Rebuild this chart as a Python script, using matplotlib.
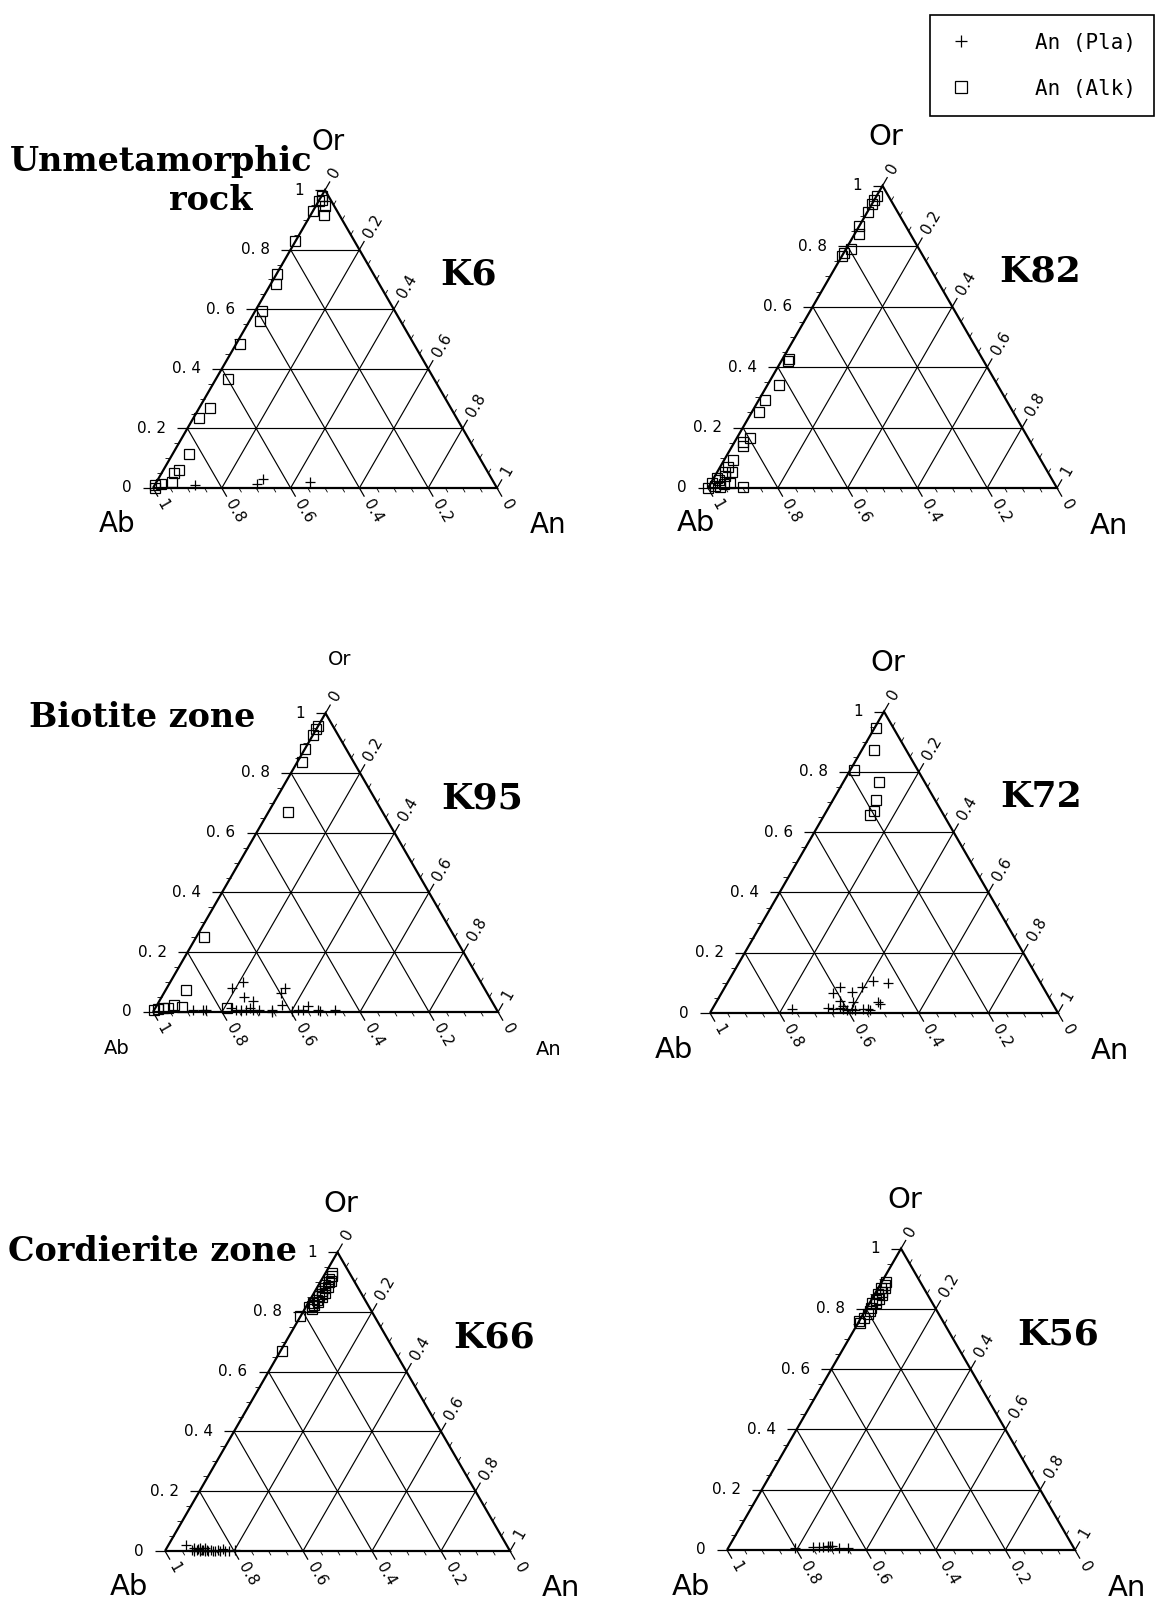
import numpy as np
import matplotlib.pyplot as plt
from matplotlib.lines import Line2D

W, H = 1161, 1605
S3 = np.sqrt(3) / 2

# feldspar compositions as Or and An fractions (Ab = 1 - Or - An)
# Alk = alkali feldspar (open squares), Pla = plagioclase (plus signs)
k6_alk_or = [0.98, 0.966, 0.963, 0.946, 0.916, 0.929, 0.828, 0.72, 0.686, 0.595, 0.56,
             0.483, 0.365, 0.267, 0.236, 0.115, 0.061, 0.051, 0.02, 0.014, 0.01, 0.0]
k6_alk_an = [0.0, 0.008, 0.0, 0.026, 0.04, 0.0, 0.0, 0.0, 0.016, 0.02, 0.03,
             0.01, 0.035, 0.033, 0.016, 0.046, 0.046, 0.036, 0.045, 0.017, 0.0, 0.006]
k6_pla_or = [0.01, 0.014, 0.03, 0.02]
k6_pla_an = [0.117, 0.296, 0.305, 0.447]

k82_alk_or = [0.966, 0.953, 0.94, 0.913, 0.866, 0.842, 0.792, 0.779, 0.768, 0.419, 0.426,
              0.342, 0.292, 0.252, 0.164, 0.151, 0.138, 0.094, 0.07, 0.054, 0.054, 0.034,
              0.017, 0.003, 0.017, 0.003, 0.0, 0.008, 0.025, 0.04, 0.012]
k82_alk_an = [0.0, 0.0, 0.0, 0.003, 0.0, 0.011, 0.013, 0.0, 0.0, 0.019, 0.02,
              0.032, 0.018, 0.02, 0.037, 0.024, 0.03, 0.026, 0.023, 0.023, 0.043, 0.009,
              0.003, 0.033, 0.054, 0.1, 0.0, 0.015, 0.02, 0.03, 0.04]
k82_pla_or = []
k82_pla_an = []

k95_alk_or = [0.956, 0.946, 0.926, 0.879, 0.836, 0.668, 0.252, 0.074, 0.007, 0.01, 0.013,
              0.013, 0.023, 0.017, 0.013]
k95_alk_an = [0.0, 0.0, 0.0, 0.0, 0.015, 0.058, 0.022, 0.059, 0.0, 0.01, 0.023,
              0.037, 0.049, 0.075, 0.208]
k95_pla_or = [0.007, 0.007, 0.007, 0.081, 0.1, 0.05, 0.037, 0.013, 0.007, 0.007, 0.007,
              0.013, 0.007, 0.007, 0.0, 0.007, 0.023, 0.064, 0.081, 0.003, 0.007, 0.007,
              0.02, 0.007, 0.003, 0.007]
k95_pla_an = [0.112, 0.141, 0.15, 0.189, 0.21, 0.239, 0.271, 0.219, 0.237, 0.252, 0.266,
              0.275, 0.286, 0.304, 0.345, 0.341, 0.362, 0.339, 0.342, 0.402, 0.417, 0.431,
              0.439, 0.475, 0.484, 0.524]

k72_alk_or = [0.946, 0.872, 0.805, 0.768, 0.708, 0.671, 0.658]
k72_alk_an = [0.004, 0.035, 0.011, 0.101, 0.122, 0.135, 0.13]
k72_pla_or = [0.013, 0.087, 0.067, 0.07, 0.087, 0.107, 0.101, 0.04, 0.037, 0.037, 0.03,
              0.017, 0.013, 0.017, 0.013, 0.01, 0.013, 0.01, 0.013, 0.013, 0.01, 0.023]
k72_pla_an = [0.229, 0.33, 0.32, 0.373, 0.393, 0.415, 0.461, 0.353, 0.391, 0.463, 0.474,
              0.331, 0.347, 0.365, 0.375, 0.388, 0.401, 0.411, 0.433, 0.447, 0.456, 0.371]

k66_alk_or = [0.93, 0.92, 0.91, 0.905, 0.9, 0.89, 0.885, 0.88, 0.87, 0.865, 0.86,
              0.855, 0.85, 0.84, 0.835, 0.83, 0.825, 0.82, 0.815, 0.81, 0.785, 0.67]
k66_alk_an = [0.02, 0.025, 0.02, 0.03, 0.025, 0.02, 0.03, 0.025, 0.02, 0.03, 0.025,
              0.02, 0.03, 0.02, 0.025, 0.015, 0.02, 0.015, 0.01, 0.02, 0.0, 0.003]
k66_pla_or = [0.02, 0.005, 0.01, 0.0, 0.005, 0.01, 0.0, 0.005, 0.01, 0.0, 0.005,
              0.0, 0.005, 0.0, 0.005, 0.0, 0.0, 0.005, 0.008, 0.003, 0.0, 0.006, 0.0]
k66_pla_an = [0.051, 0.075, 0.08, 0.085, 0.09, 0.095, 0.1, 0.105, 0.11, 0.115, 0.12,
              0.125, 0.13, 0.14, 0.15, 0.16, 0.175, 0.2, 0.092, 0.108, 0.145, 0.165, 0.185]

k56_alk_or = [0.889, 0.878, 0.868, 0.855, 0.845, 0.834, 0.828, 0.818, 0.804, 0.794,
              0.784, 0.77, 0.753, 0.76, 0.87, 0.85, 0.82]
k56_alk_an = [0.012, 0.015, 0.02, 0.018, 0.022, 0.02, 0.015, 0.018, 0.012, 0.015,
              0.012, 0.01, 0.006, 0.0, 0.008, 0.01, 0.006]
k56_pla_or = [0.007, 0.01, 0.01, 0.014, 0.01, 0.014, 0.007, 0.007, 0.01, 0.012]
k56_pla_an = [0.192, 0.243, 0.272, 0.283, 0.286, 0.29, 0.317, 0.345, 0.26, 0.295]

# panel layout: name, Ab corner in pixels (x, y from top), side length in pixels,
# vertex-label size, data
panels = [
    ("K6", 153, 488, 344, 20, k6_alk_or, k6_alk_an, k6_pla_or, k6_pla_an),
    ("K82", 708, 488, 349, 21, k82_alk_or, k82_alk_an, k82_pla_or, k82_pla_an),
    ("K95", 153, 1012, 345, 14, k95_alk_or, k95_alk_an, k95_pla_or, k95_pla_an),
    ("K72", 710, 1013, 348, 21, k72_alk_or, k72_alk_an, k72_pla_or, k72_pla_an),
    ("K66", 165, 1551, 345, 21, k66_alk_or, k66_alk_an, k66_pla_or, k66_pla_an),
    ("K56", 727, 1550, 348, 21, k56_alk_or, k56_alk_an, k56_pla_or, k56_pla_an),
]
ab_offsets = {"K82": (-0.035, -0.10)}

XL = (-0.5, 1.3)
YL = (-0.25, 1.05)


def to_xy(or_, an):
    or_ = np.asarray(or_, float)
    an = np.asarray(an, float)
    return an + or_ / 2, or_ * S3


def tick_text(t, left=False):
    if t == 0:
        return "0"
    if t == 1:
        return "1"
    return ("0. %d" if left else "0.%d") % round(t * 10)


def frame(ax, w, name, vsize):
    px = 1.0 / w
    k = dict(color="k", solid_capstyle="butt")
    ax.plot([0, 1, 0.5, 0], [0, 0, S3, 0], lw=1.6, solid_joinstyle="miter", **k)
    for v in [0.2, 0.4, 0.6, 0.8]:
        ax.plot([v / 2, 1 - v / 2], [v * S3, v * S3], lw=0.85, **k)
        ax.plot([v, v + (1 - v) / 2], [0, (1 - v) * S3], lw=0.85, **k)
        ax.plot([1 - v, (1 - v) / 2], [0, (1 - v) * S3], lw=0.85, **k)

    for i in range(21):
        t = i / 20
        major = i % 4 == 0
        L = (10 if major else 5) * px
        lw = 0.9 if major else 0.6
        # Or axis (left side), horizontal ticks
        x, y = t / 2, t * S3
        ax.plot([x, x - L], [y, y], lw=lw, **k)
        if major:
            ax.text(x - L - 11 * px, y, tick_text(t, True), ha="right", va="center",
                    fontsize=11)
        # Ab axis (bottom), ticks pointing down-right
        x, y = 1 - t, 0
        ax.plot([x, x + 0.5 * L], [y, y - S3 * L], lw=lw, **k)
        if major:
            g = L + 5 * px
            ax.text(x + 0.5 * g, y - S3 * g, tick_text(t), rotation=-60,
                    rotation_mode="anchor", ha="left", va="center", fontsize=11)
        # An axis (right side), ticks pointing up-right
        x, y = t + (1 - t) / 2, (1 - t) * S3
        ax.plot([x, x + 0.5 * L], [y, y + S3 * L], lw=lw, **k)
        if major:
            g = L + 5 * px
            ax.text(x + 0.5 * g, y + S3 * g, tick_text(t), rotation=60,
                    rotation_mode="anchor", ha="left", va="center", fontsize=11)

    abx, aby = ab_offsets.get(name, (-0.105, -0.105))
    ax.text(abx, aby, "Ab", ha="center", va="center", fontsize=vsize)
    ax.text(1.148, -0.108, "An", ha="center", va="center", fontsize=vsize)
    if name == "K95":
        ox, oy = 0.54, S3 + 0.155
    else:
        ox, oy = 0.51, S3 + 0.14
    ax.text(ox, oy, "Or", ha="center", va="center", fontsize=vsize)
    ax.text(0.835, 0.62, name, ha="left", va="center", fontsize=26,
            family="DejaVu Serif", fontweight="bold")


fig = plt.figure(figsize=(W / 100, H / 100), dpi=100)

for name, x0, y0, w, vsize, a_or, a_an, p_or, p_an in panels:
    left = (x0 + XL[0] * w) / W
    bottom = (H - y0 + YL[0] * w) / H
    ax = fig.add_axes([left, bottom, (XL[1] - XL[0]) * w / W, (YL[1] - YL[0]) * w / H])
    ax.set_xlim(*XL)
    ax.set_ylim(*YL)
    ax.set_axis_off()
    frame(ax, w, name, vsize)
    x, y = to_xy(a_or, a_an)
    ax.plot(x, y, ls="none", marker="s", ms=7.6, mfc="none", mec="k", mew=0.9,
            clip_on=False)
    if len(p_or):
        x, y = to_xy(p_or, p_an)
        ax.plot(x, y, ls="none", marker="+", ms=6.5, mec="k", mew=0.9, clip_on=False)

# zone titles
tk = dict(family="DejaVu Serif", fontweight="bold", fontsize=24, va="baseline")
fig.text(10 / W, 1 - 171 / H, "Unmetamorphic", ha="left", **tk)
fig.text(169 / W, 1 - 210 / H, "rock", ha="left", **tk)
fig.text(29 / W, 1 - 727 / H, "Biotite zone", ha="left", **tk)
fig.text(8 / W, 1 - 1261 / H, "Cordierite zone", ha="left", **tk)

handles = [
    Line2D([], [], ls="none", marker="+", ms=8, mec="k", mew=0.9),
    Line2D([], [], ls="none", marker="s", ms=8, mfc="none", mec="k", mew=0.9),
]
leg = fig.legend(handles, ["An (Pla)", "An (Alk)"], loc="upper right",
                 bbox_to_anchor=(1154 / W, 1 - 15 / H),
                 prop=dict(family="DejaVu Sans Mono", size=15), frameon=True,
                 fancybox=False, edgecolor="k", framealpha=1, handlelength=1.3,
                 handletextpad=2.9, borderpad=0.85, labelspacing=1.25, borderaxespad=0)
leg.get_frame().set_linewidth(1.2)

fig.savefig("out.png", dpi=100, facecolor="white")
